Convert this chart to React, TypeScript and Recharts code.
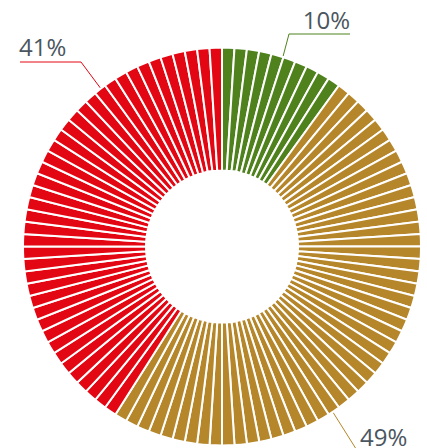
import React from "react";
import { PieChart, Pie, Cell } from "recharts";

const categories = ["Green", "Gold", "Red"];
const values = [10, 49, 41];
const colors = ["#4f821d", "#b5862a", "#e30613"];
const labels = ["10%", "49%", "41%"];

const CX = 222;
const CY = 246.5;
const R_OUT = 199;
const R_IN = 76;

// one segment per percent point
const segments: { name: string; value: number; color: string }[] = [];
categories.forEach((c, i) => {
  for (let k = 0; k < values[i]; k++) {
    segments.push({ name: c, value: 1, color: colors[i] });
  }
});

const polar = (deg: number, r: number) => {
  // deg: clockwise from 12 o'clock
  const a = (deg * Math.PI) / 180;
  return [CX + r * Math.sin(a), CY - r * Math.cos(a)];
};

const Labels = () => {
  const textStyle = { fontFamily: "Open Sans, sans-serif", fontSize: 24, fill: "#4b5660" };
  // green label
  const [gx, gy] = polar(17.8, R_OUT + 1);
  // gold label
  const [bx, by] = polar(146.2, R_OUT + 1);
  // red label
  const [rx, ry] = polar(-37.5, R_OUT + 1);
  return (
    <g>
      <polyline points={`${gx},${gy} 289,34 350,34`} fill="none" stroke={colors[0]} strokeWidth={1} />
      <text x={350} y={29} textAnchor="end" style={textStyle}>{labels[0]}</text>
      <polyline points={`${bx},${by} 358,452`} fill="none" stroke={colors[1]} strokeWidth={1} />
      <text x={360} y={446} textAnchor="start" style={textStyle}>{labels[1]}</text>
      <polyline points={`${rx},${ry} 81,62 20,62`} fill="none" stroke={colors[2]} strokeWidth={1} />
      <text x={19} y={56} textAnchor="start" style={textStyle}>{labels[2]}</text>
    </g>
  );
};

export default function App() {
  return (
    <div style={{ position: "absolute", left: 0, top: 0, width: 427, height: 448, background: "#fff" }}>
      <PieChart width={427} height={448} margin={{ top: 0, right: 0, bottom: 0, left: 0 }}>
        <Pie
          data={segments}
          dataKey="value"
          nameKey="name"
          cx={CX}
          cy={CY}
          innerRadius={R_IN}
          outerRadius={R_OUT}
          startAngle={90}
          endAngle={-270}
          stroke="#ffffff"
          strokeWidth={2}
          isAnimationActive={false}
        >
          {segments.map((s, i) => (
            <Cell key={i} fill={s.color} />
          ))}
        </Pie>
        <Labels />
      </PieChart>
    </div>
  );
}
